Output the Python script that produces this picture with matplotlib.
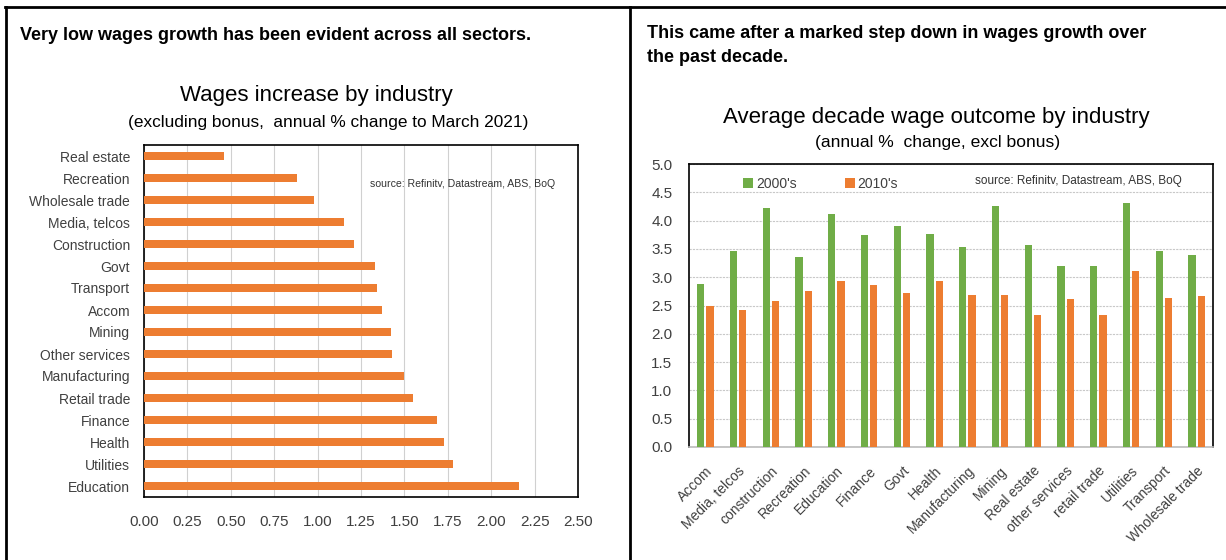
import matplotlib
matplotlib.use('Agg')
import matplotlib.pyplot as plt
from matplotlib.lines import Line2D
import numpy as np

# Left chart: wages increase by industry (annual % to March 2021)
industries = ['Real estate', 'Recreation', 'Wholesale trade', 'Media, telcos',
              'Construction', 'Govt', 'Transport', 'Accom', 'Mining',
              'Other services', 'Manufacturing', 'Retail trade', 'Finance',
              'Health', 'Utilities', 'Education']
wage_growth = [0.46, 0.88, 0.98, 1.15, 1.21, 1.33, 1.34, 1.37, 1.42,
               1.43, 1.50, 1.55, 1.69, 1.73, 1.78, 2.16]
left_ticks = [0.0, 0.25, 0.5, 0.75, 1.0, 1.25, 1.5, 1.75, 2.0, 2.25, 2.5]

# Right chart: average decade wage outcome
decade_inds = ['Accom', 'Media, telcos', 'construction', 'Recreation', 'Education',
               'Finance', 'Govt', 'Health', 'Manufacturing', 'Mining',
               'Real estate', 'other services', 'retail trade', 'Utilities',
               'Transport', 'Wholesale trade']
avg_2000s = [2.88, 3.46, 4.23, 3.36, 4.12, 3.74, 3.90, 3.76, 3.54, 4.26,
             3.57, 3.19, 3.19, 4.31, 3.46, 3.40]
avg_2010s = [2.50, 2.42, 2.58, 2.75, 2.94, 2.86, 2.72, 2.94, 2.69, 2.69,
             2.33, 2.61, 2.33, 3.11, 2.64, 2.66]
right_ticks = [0.0, 0.5, 1.0, 1.5, 2.0, 2.5, 3.0, 3.5, 4.0, 4.5, 5.0]

orange = '#ED7D31'
green = '#70AD47'
tick_col = '#404040'
narrow = ['Liberation Sans Narrow', 'Liberation Sans', 'DejaVu Sans']
plain = ['Liberation Sans', 'DejaVu Sans']

W, H = 1226, 560
fig = plt.figure(figsize=(W / 100, H / 100), dpi=100)


def px_rect(x0, y0, x1, y1):
    # pixel box (top-left origin) -> figure fraction rect
    return [x0 / W, 1 - y1 / H, (x1 - x0) / W, (y1 - y0) / H]


# panel borders
fig.add_artist(Line2D([5 / W, 1], [1 - 7 / H, 1 - 7 / H], color='black', lw=2))
fig.add_artist(Line2D([6 / W, 6 / W], [0, 1 - 7 / H], color='black', lw=2))
fig.add_artist(Line2D([630 / W, 630 / W], [0, 1 - 7 / H], color='black', lw=2))

# header comments
fig.text(20 / W, 1 - 35 / H, 'Very low wages growth has been evident across all sectors.',
         family=plain, fontweight='bold', fontsize=13, va='center', ha='left')
fig.text(647 / W, 1 - 33 / H, 'This came after a marked step down in wages growth over',
         family=plain, fontweight='bold', fontsize=13, va='center', ha='left')
fig.text(647 / W, 1 - 58 / H, 'the past decade.',
         family=plain, fontweight='bold', fontsize=13, va='center', ha='left')

# ---- left chart ----
ax1 = fig.add_axes(px_rect(144, 145, 578, 497))
y = np.arange(len(industries))
ax1.barh(y, wage_growth, height=0.36, color=orange, zorder=3)
ax1.set_yticks(y)
ax1.set_yticklabels(industries, family=narrow, fontsize=10, color=tick_col)
ax1.set_ylim(len(industries) - 0.5, -0.5)
ax1.set_xlim(0, 2.5)
ax1.set_xticks(left_ticks)
ax1.set_xticklabels(['%.2f' % t for t in left_ticks], family=narrow, fontsize=11, color=tick_col)
ax1.tick_params(axis='both', length=0)
ax1.tick_params(axis='x', pad=13)
ax1.tick_params(axis='y', pad=10)
ax1.grid(axis='x', color='#d0d0d0', lw=0.8, zorder=0)
for s in ax1.spines.values():
    s.set_color('black')
    s.set_linewidth(1.2)
ax1.text(0.52, 0.89, 'source: Refinitv, Datastream, ABS, BoQ', transform=ax1.transAxes,
         family=narrow, fontsize=7.6, color='#333333', ha='left', va='center')

fig.text(316 / W, 1 - 95 / H, 'Wages increase by industry', family=narrow,
         fontsize=16, ha='center', va='center')
fig.text(328 / W, 1 - 122 / H, '(excluding bonus,  annual % change to March 2021)',
         family=narrow, fontsize=12.4, ha='center', va='center')

# ---- right chart ----
ax2 = fig.add_axes(px_rect(689, 164, 1213, 447))
x = np.arange(len(decade_inds))
bw = 0.22
ax2.bar(x - 0.14, avg_2000s, width=bw, color=green, label="2000's", zorder=3)
ax2.bar(x + 0.14, avg_2010s, width=bw, color=orange, label="2010's", zorder=3)
ax2.set_xlim(-0.5, len(decade_inds) - 0.5)
ax2.set_ylim(0, 5.0)
ax2.set_yticks(right_ticks)
ax2.set_yticklabels(['%.1f' % t for t in right_ticks], family=narrow, fontsize=11, color=tick_col)
ax2.set_xticks(x)
ax2.set_xticklabels(decade_inds, rotation=45, ha='right', rotation_mode='anchor',
                    family=narrow, fontsize=10, color=tick_col)
ax2.tick_params(axis='both', length=0)
ax2.tick_params(axis='y', pad=12)
ax2.tick_params(axis='x', pad=12)
ax2.grid(axis='y', color='#c8c8c8', lw=0.8, ls=(0, (2, 1)), zorder=0)
for name, s in ax2.spines.items():
    s.set_color('black')
    s.set_linewidth(1.2)
ax2.spines['bottom'].set_color('#bbbbbb')
ax2.legend(loc='upper left', bbox_to_anchor=(0.08, 1.0), ncol=2, frameon=False,
           prop={'family': narrow, 'size': 10}, handlelength=0.7, handleheight=0.7,
           handletextpad=0.2, columnspacing=3.5, labelcolor=tick_col)
ax2.text(0.545, 0.94, 'source: Refinitv, Datastream, ABS, BoQ', transform=ax2.transAxes,
         family=narrow, fontsize=8.5, color='#333333', ha='left', va='center')

fig.text(936 / W, 1 - 117 / H, 'Average decade wage outcome by industry', family=narrow,
         fontsize=16, ha='center', va='center')
fig.text(938 / W, 1 - 143 / H, '(annual %  change, excl bonus)', family=narrow,
         fontsize=12.6, ha='center', va='center')

fig.savefig('out.png', dpi=100)
